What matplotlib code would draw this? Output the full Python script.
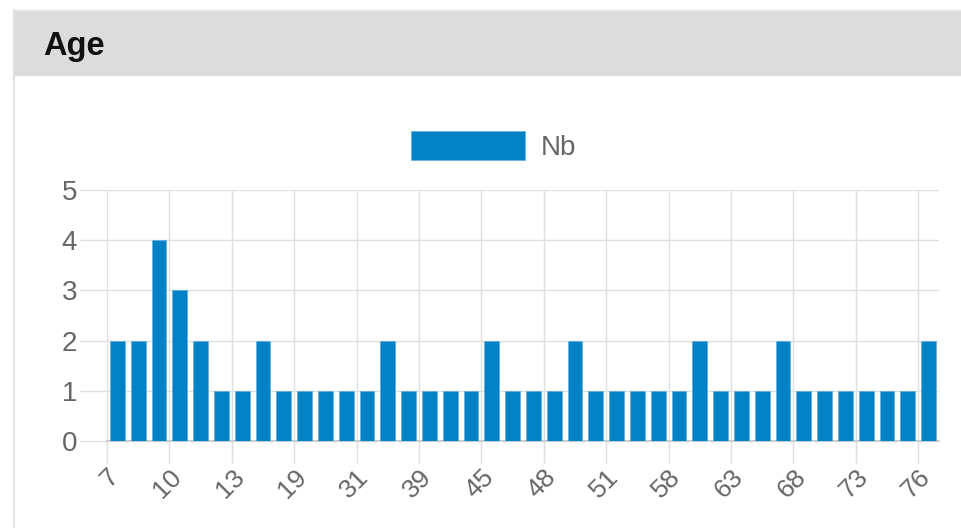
import matplotlib
matplotlib.use("Agg")
import matplotlib.pyplot as plt
from matplotlib.patches import Rectangle
from matplotlib.lines import Line2D

plt.rcParams['font.family'] = ['Liberation Sans', 'DejaVu Sans']

# ages (only every third label is visible on the chart, the others are estimates)
ages = [7, 8, 9, 10, 11, 12, 13, 15, 17, 19, 22, 27, 31, 33, 36, 39, 41, 43,
        45, 46, 47, 48, 49, 50, 51, 53, 56, 58, 60, 61, 63, 65, 66, 68, 70, 71,
        73, 74, 75, 76]
counts = [2, 2, 4, 3, 2, 1, 1, 2, 1, 1, 1, 1, 1, 2, 1, 1, 1, 1, 2, 1,
          1, 1, 2, 1, 1, 1, 1, 1, 2, 1, 1, 1, 2, 1, 1, 1, 1, 1, 1, 2]
series_name = "Nb"
title = "Age"

bar_color = "#0282c6"
grid_color = "#dfdfdf"
text_color = "#666666"

W, H = 961, 528
fig = plt.figure(figsize=(W / 100, H / 100), dpi=100)

# panel decoration: header band + left border
fig.patches.append(Rectangle((14 / W, 1 - 76 / H), 1, 66 / H, transform=fig.transFigure,
                             facecolor="#dcdcdc", edgecolor="none", zorder=0))
fig.lines.append(Line2D([14 / W, 14 / W], [0, 1 - 10 / H], transform=fig.transFigure,
                        color="#e2e2e2", lw=1.5))
fig.lines.append(Line2D([14 / W, 1], [1 - 10 / H, 1 - 10 / H], transform=fig.transFigure,
                        color="#e6e6e6", lw=1))
fig.text(43 / W, 1 - 46 / H, title, fontsize=23.5, fontweight="bold", color="#111111",
         va="center", ha="left")

ax = fig.add_axes([107 / W, 1 - 441 / H, (939 - 107) / W, (441 - 190) / H])
x = list(range(len(ages)))
ax.bar(x, counts, width=0.72, color=bar_color, label=series_name, zorder=3,
       edgecolor="#5aaee0", linewidth=0.4)

ax.set_xlim(-0.5, len(ages) - 0.5)
ax.set_ylim(0, 5)

# gridlines + labels on the left edge of every third category
shown = list(range(0, len(ages), 3))
ax.set_xticks([i - 0.5 for i in shown])
ax.set_xticklabels([str(ages[i]) for i in shown], rotation=45,
                   ha="right", va="top", rotation_mode="anchor",
                   fontsize=19, color=text_color)
ax.tick_params(axis="x", length=16, color=grid_color, width=1, pad=1)

ax.set_yticks(range(0, 6))
ax.set_yticklabels([str(v) for v in range(0, 6)], fontsize=20, color=text_color)
ax.tick_params(axis="y", length=19.5, color=grid_color, width=1, pad=2)

ax.grid(True, color=grid_color, lw=1, zorder=0)
for s in ["top", "right", "left"]:
    ax.spines[s].set_visible(False)
ax.spines["bottom"].set_color("#c4c4c4")
ax.spines["bottom"].set_linewidth(1.2)

leg = ax.legend(loc="center", bbox_to_anchor=(494 / W, 1 - 146 / H),
                bbox_transform=fig.transFigure, frameon=False, fontsize=20,
                handlelength=4.07, handleheight=1.22, handletextpad=0.6)
for t in leg.get_texts():
    t.set_color(text_color)

fig.savefig("out.png", dpi=100, facecolor="white")
